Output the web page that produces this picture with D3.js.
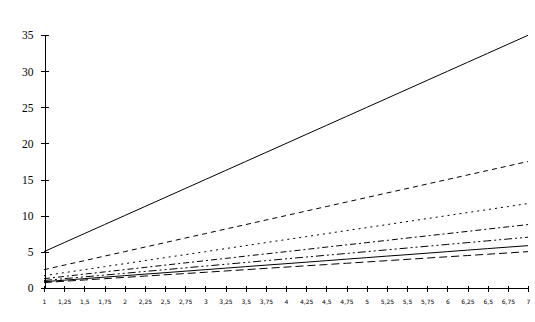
<!DOCTYPE html>
<html><head><meta charset="utf-8">
<script src="https://cdn.jsdelivr.net/npm/d3@7"></script>
<style>body{margin:0;background:#fff}svg{display:block}</style>
</head><body>
<svg id="c" width="535" height="322"></svg>
<script>
const categories = ["1","1,25","1,5","1,75","2","2,25","2,5","2,75","3","3,25","3,5","3,75","4","4,25","4,5","4,75","5","5,25","5,5","5,75","6","6,25","6,5","6,75","7"];
const s1 = [5,6.25,7.5,8.75,10,11.25,12.5,13.75,15,16.25,17.5,18.75,20,21.25,22.5,23.75,25,26.25,27.5,28.75,30,31.25,32.5,33.75,35];
const s2 = [2.5,3.13,3.75,4.38,5,5.63,6.25,6.88,7.5,8.13,8.75,9.38,10,10.63,11.25,11.88,12.5,13.13,13.75,14.38,15,15.63,16.25,16.88,17.5];
const s3 = [1.67,2.08,2.5,2.92,3.33,3.75,4.17,4.58,5,5.42,5.83,6.25,6.67,7.08,7.5,7.92,8.33,8.75,9.17,9.58,10,10.42,10.83,11.25,11.67];
const s4 = [1.25,1.56,1.88,2.19,2.5,2.81,3.13,3.44,3.75,4.06,4.38,4.69,5,5.31,5.63,5.94,6.25,6.56,6.88,7.19,7.5,7.81,8.13,8.44,8.75];
const s5 = [1,1.25,1.5,1.75,2,2.25,2.5,2.75,3,3.25,3.5,3.75,4,4.25,4.5,4.75,5,5.25,5.5,5.75,6,6.25,6.5,6.75,7];
const s6 = [0.83,1.04,1.25,1.46,1.67,1.88,2.08,2.29,2.5,2.71,2.92,3.13,3.33,3.54,3.75,3.96,4.17,4.38,4.58,4.79,5,5.21,5.42,5.63,5.83];
const s7 = [0.71,0.89,1.07,1.25,1.43,1.61,1.79,1.96,2.14,2.32,2.5,2.68,2.86,3.04,3.21,3.39,3.57,3.75,3.93,4.11,4.29,4.46,4.64,4.82,5];
const yTicks = [0,5,10,15,20,25,30,35];

const series = [s1,s2,s3,s4,s5,s6,s7];
const dashes = [null,"5,4","2,4","6,3,2,3","8,3,2,3,2,3",null,"8,4"];

const svg = d3.select("#c");
const x = d3.scalePoint().domain(categories).range([44,528]).padding(0);
const y = d3.scaleLinear().domain([0,35]).range([287.7,35.3]);

// Y axis
const ya = svg.append("g").attr("transform","translate(44.5,0)")
  .call(d3.axisLeft(y).tickValues(yTicks).tickSize(4).tickPadding(7).tickSizeOuter(0));
ya.selectAll(".tick line").attr("x2",4).attr("x1",-4);
ya.selectAll("path,line").attr("stroke","#000").attr("shape-rendering","crispEdges");
ya.selectAll("text").attr("font-family","'Liberation Serif',serif").attr("font-size","11.5px").attr("fill","#000");

// X axis
const xa = svg.append("g").attr("transform","translate(0,287.5)")
  .call(d3.axisBottom(x).tickSize(4).tickPadding(8).tickSizeOuter(0));
xa.selectAll(".tick line").attr("y1",-2).attr("y2",4);
xa.selectAll("path,line").attr("stroke","#000").attr("shape-rendering","crispEdges");
xa.selectAll("text").attr("font-family","'DejaVu Sans',sans-serif").attr("font-size","6px").attr("fill","#000");

const line = d3.line().x((d,i)=>x(categories[i])).y(d=>y(d));
series.forEach((s,k)=>{
  svg.append("path").datum(s).attr("d",line).attr("fill","none")
    .attr("stroke","#000").attr("stroke-width",1)
    .attr("stroke-dasharray",dashes[k]);
});
</script>
</body></html>
